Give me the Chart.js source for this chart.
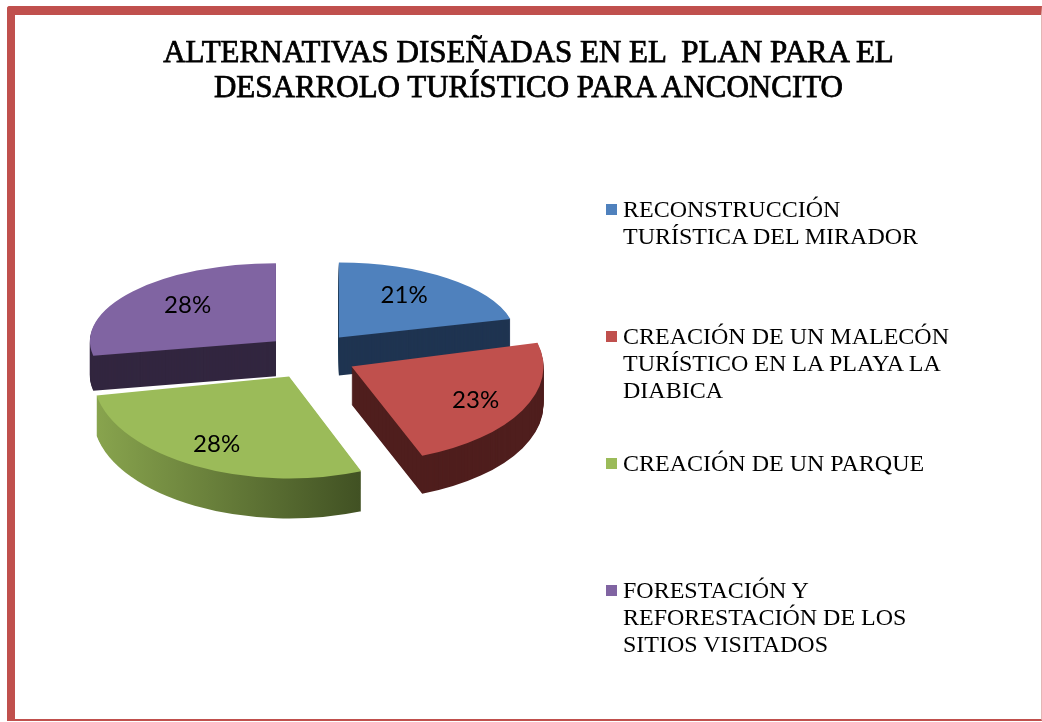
<!DOCTYPE html>
<html><head><meta charset="utf-8">
<script src="https://cdn.jsdelivr.net/npm/chart.js@4.4.1/dist/chart.umd.min.js"></script>
<style>
html,body{margin:0;padding:0;background:#fff;}
body{width:1042px;height:722px;position:relative;overflow:hidden;}
#frame{position:absolute;left:7px;top:6px;width:1035px;height:715px;box-sizing:border-box;border-style:solid;border-color:#C0504D;border-width:9px 1px 2px 8px;border-right-color:#e3b5b4;border-top-left-radius:3px;}
#wrap{position:absolute;left:0;top:0;width:1042px;height:722px;}
#title{position:absolute;left:15px;top:34px;width:1027px;text-align:center;font-family:'Liberation Serif','Times New Roman',serif;font-weight:normal;font-size:31px;line-height:35px;color:#000;white-space:pre;-webkit-text-stroke:0.75px #000;}
#legend{position:absolute;left:606px;top:0;margin:0;padding:0;list-style:none;font-family:'Liberation Serif','Times New Roman',serif;font-size:24px;line-height:27px;color:#000;}
#legend li{position:absolute;left:0;width:360px;}
#legend .box{position:absolute;left:0;top:8px;width:11px;height:11px;}
#legend .txt{position:absolute;left:17px;width:336px;}
.plabel{position:absolute;font-family:Lato,'Open Sans',sans-serif;font-size:24px;line-height:24px;color:#000;transform:translate(-50%,-50%);white-space:nowrap;}
</style></head>
<body>
<div id="frame"></div>
<div id="wrap"><canvas id="c"></canvas></div>
<div id="title"></div>
<ul id="legend"></ul>
<div id="labels"></div>
<script>
const titleLines = ['ALTERNATIVAS DISEÑADAS EN EL  PLAN PARA EL', 'DESARROLO TURÍSTICO PARA ANCONCITO'];
const categories = [
  'RECONSTRUCCIÓN TURÍSTICA DEL MIRADOR',
  'CREACIÓN DE UN MALECÓN TURÍSTICO EN LA PLAYA LA DIABICA',
  'CREACIÓN DE UN PARQUE',
  'FORESTACIÓN Y REFORESTACIÓN DE LOS SITIOS VISITADOS'
];
const values = [21, 23, 28, 28];
const topColors = ['#4F81BD', '#C0504D', '#9BBB59', '#8064A2'];
const sideColors = ['#1F3451', '#4F1E1D', ['#89A54E', '#3F4F22'], '#32263F'];

// 3D projection styling (screen pixels): shared centre/explosion, per-slice perspective size
const G = {cx: 311, cy: 356, explode: 45.5, explodeTilt: 0.512};
const sliceRX = [177, 192, 196, 186];
const sliceRY = [75, 96, 102, 78];
const sliceDepth = [38, 38, 40, 35];
const drawOrder = [0, 3, 1, 2];

function geom(arc, i) {
  const r = arc.outerRadius;
  const m = (arc.startAngle + arc.endAngle) / 2;
  const ax = G.cx + Math.cos(m) * G.explode;
  const ay = G.cy + Math.sin(m) * G.explode * G.explodeTilt;
  return {r, m, ax, ay, sx: sliceRX[i] / r, sy: sliceRY[i] / r};
}

function placeArc(ctx, arc, i, dz) {
  const g = geom(arc, i);
  ctx.save();
  ctx.translate(g.ax, g.ay + dz);
  ctx.scale(g.sx, g.sy);
  ctx.translate(-arc.x, -arc.y);
}

function sideFill(ctx, arc, i) {
  const c = sideColors[i];
  if (!Array.isArray(c)) return c;
  const g = geom(arc, i);
  const toPie = X => (X - g.ax) / g.sx + arc.x;
  const left = g.ax - sliceRX[i];
  const right = g.ax + sliceRX[i] * 0.4;
  const grad = ctx.createLinearGradient(toPie(left), 0, toPie(right), 0);
  grad.addColorStop(0, c[0]);
  grad.addColorStop(1, c[1]);
  return grad;
}

const labelBox = document.getElementById('labels');
const total = values.reduce((a, b) => a + b, 0);

const pie3d = {
  id: 'pie3d',
  beforeDatasetsDraw(chart) {
    const ctx = chart.ctx;
    const meta = chart.getDatasetMeta(0);
    drawOrder.forEach(i => {
      const arc = meta.data[i];
      const orig = arc.options;
      arc.options = Object.assign({}, orig, {backgroundColor: sideFill(ctx, arc, i), borderWidth: 0});
      for (let dz = sliceDepth[i]; dz > 0; dz -= 1) {
        placeArc(ctx, arc, i, dz);
        arc.draw(ctx);
        ctx.restore();
      }
      arc.options = orig;
      placeArc(ctx, arc, i, 0);
      arc.draw(ctx);
      ctx.restore();
    });
    return false;
  },
  afterDraw(chart) {
    const meta = chart.getDatasetMeta(0);
    labelBox.innerHTML = '';
    meta.data.forEach((arc, i) => {
      const g = geom(arc, i);
      const fx = 0.68 + 0.1 * Math.sin(g.m);
      const fy = 0.74;
      const X = g.ax + Math.cos(g.m) * fx * sliceRX[i];
      const Y = g.ay + Math.sin(g.m) * fy * sliceRY[i];
      const s = document.createElement('div');
      s.className = 'plabel';
      s.style.left = X + 'px';
      s.style.top = Y + 'px';
      s.textContent = Math.round(chart.data.datasets[0].data[i] / total * 100) + '%';
      labelBox.appendChild(s);
    });
  }
};

const chart = new Chart(document.getElementById('c'), {
  type: 'pie',
  data: {
    labels: categories,
    datasets: [{data: values, backgroundColor: topColors, borderWidth: 0}]
  },
  options: {
    responsive: true,
    maintainAspectRatio: false,
    animation: false,
    events: [],
    devicePixelRatio: 1,
    layout: {padding: {left: 15, right: 0, top: 110, bottom: 0}},
    plugins: {
      legend: {display: false},
      tooltip: {enabled: false},
      title: {display: false}
    }
  },
  plugins: [pie3d]
});

// title text (HTML so the serif face is used)
document.getElementById('title').textContent = titleLines.join('\n');

// HTML legend built from the chart's own labels and colours
const ul = document.getElementById('legend');
chart.data.labels.forEach((lab, i) => {
  const li = document.createElement('li');
  li.style.top = (196 + 127 * i) + 'px';
  const box = document.createElement('span');
  box.className = 'box';
  box.style.background = chart.data.datasets[0].backgroundColor[i];
  const txt = document.createElement('span');
  txt.className = 'txt';
  txt.textContent = lab;
  li.appendChild(box);
  li.appendChild(txt);
  ul.appendChild(li);
});
</script>
</body></html>
